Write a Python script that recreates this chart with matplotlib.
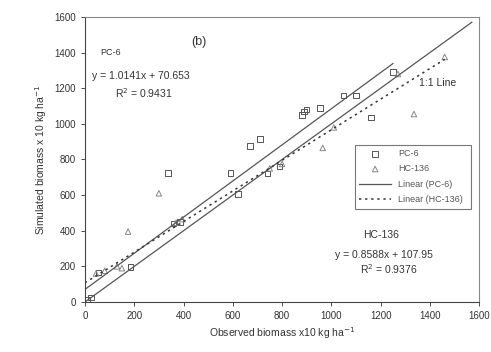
import matplotlib
matplotlib.use('Agg')
import matplotlib.pyplot as plt
import numpy as np

plt.rcParams['font.family'] = ['Liberation Sans', 'DejaVu Sans']

# observed vs simulated biomass (x10 kg/ha)
pc6_obs = [10, 25, 55, 185, 360, 385, 337, 590, 620, 670, 710, 740, 790, 880, 890, 900, 955, 1050, 1100, 1160, 1250]
pc6_sim = [15, 25, 165, 197, 440, 450, 725, 725, 605, 875, 915, 720, 760, 1050, 1070, 1080, 1090, 1160, 1160, 1035, 1290]

hc_obs = [45, 80, 130, 150, 175, 300, 370, 395, 750, 800, 965, 1010, 1270, 1335, 1460]
hc_sim = [160, 175, 200, 190, 395, 610, 445, 465, 750, 775, 865, 980, 1280, 1055, 1375]

# regression coefficients printed on the chart
pc6_fit = (1.0141, 70.653)
hc_fit = (0.8588, 107.95)

ticks = [0, 200, 400, 600, 800, 1000, 1200, 1400, 1600]

fig = plt.figure(figsize=(4.91, 3.52), dpi=100)
ax = fig.add_axes([0.173, 0.142, 0.803, 0.810])

col = '#555555'
ax.scatter(pc6_obs, pc6_sim, marker='s', s=16, facecolors='none', edgecolors=col, linewidths=0.7, label='PC-6')
ax.scatter(hc_obs, hc_sim, marker='^', s=16, facecolors='none', edgecolors='#888888', linewidths=0.7, label='HC-136')

# 1:1 line
xx = np.array([0, 1570])
ax.plot(xx, xx, color='#555555', lw=0.9)

xp = np.array([0, 1250])
ax.plot(xp, pc6_fit[0] * xp + pc6_fit[1], color='#555555', lw=0.9, label='Linear (PC-6)')
xh = np.array([0, 1460])
ax.plot(xh, hc_fit[0] * xh + hc_fit[1], color='#333333', lw=1.1, linestyle=(0, (1.5, 2.5)), label='Linear (HC-136)')

ax.set_xlim(0, 1600)
ax.set_ylim(0, 1600)
ax.set_xticks(ticks)
ax.set_yticks(ticks)
ax.tick_params(labelsize=7, length=3, width=0.6, colors='#333333')
for s in ['left', 'bottom']:
    ax.spines[s].set_color('#444444')
    ax.spines[s].set_linewidth(0.8)
for s in ['top', 'right']:
    ax.spines[s].set_color('#888888')
    ax.spines[s].set_linewidth(0.8)

ax.set_xlabel('Observed biomass x10 kg ha$^{-1}$', fontsize=7.5, color='#333333', labelpad=3)
ax.set_ylabel('Simulated biomass x 10 kg ha$^{-1}$', fontsize=7.5, color='#333333', labelpad=4)

tc = '#333333'
ax.text(430, 1460, '(b)', fontsize=9, color=tc, va='center')
ax.text(61, 1399, 'PC-6', fontsize=6.5, color=tc, va='center')
ax.text(28, 1270, 'y = 1.0141x + 70.653', fontsize=7.5, color=tc, va='center')
ax.text(122, 1172, 'R$^2$ = 0.9431', fontsize=7.5, color=tc, va='center')
ax.text(1354, 1230, '1:1 Line', fontsize=7.5, color=tc, va='center')
ax.text(1130, 376, 'HC-136', fontsize=7.5, color=tc, va='center')
ax.text(1016, 262, 'y = 0.8588x + 107.95', fontsize=7.5, color=tc, va='center')
ax.text(1118, 185, 'R$^2$ = 0.9376', fontsize=7.5, color=tc, va='center')

leg = ax.legend(loc='upper left', bbox_to_anchor=(0.673, 0.333, 0.317, 0.235), mode='expand',
                fontsize=6.5, frameon=True, fancybox=False, edgecolor='#555555',
                handlelength=3.5, borderpad=0.5, labelspacing=0.7)
leg.get_frame().set_linewidth(0.8)
for t in leg.get_texts():
    t.set_color('#555555')

fig.savefig('out.png', dpi=100)
